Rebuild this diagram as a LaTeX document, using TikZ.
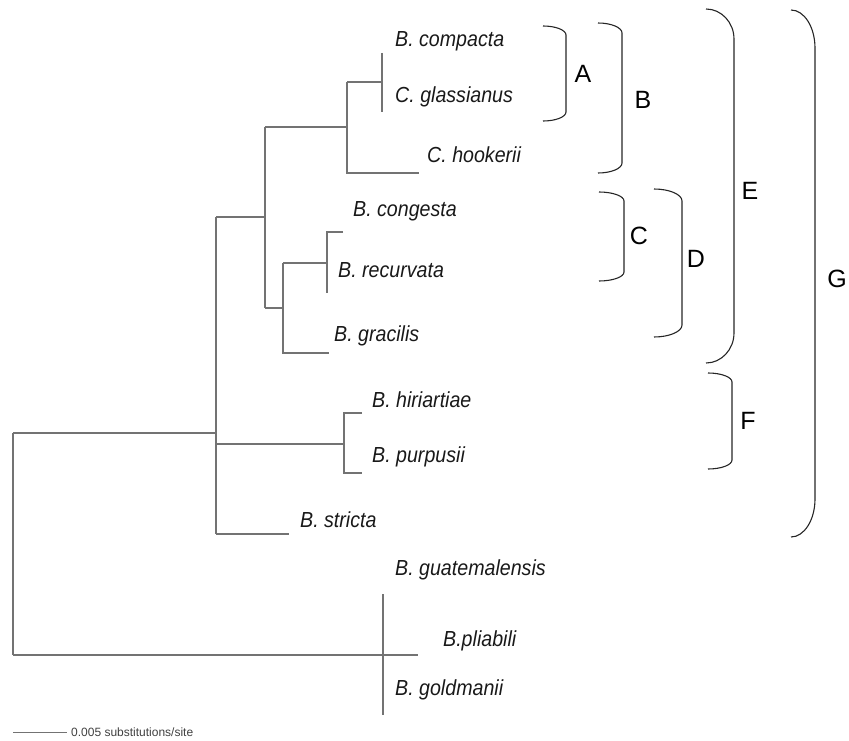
\documentclass[tikz,border=0pt]{standalone}
\usepackage{fontspec}
\setmainfont{Liberation Sans}
\newfontfamily\taxfont[FakeStretch=0.9]{Liberation Sans}
\newcommand\cladebrace[5]{% #1=x0 #2=ytop #3=w #4=r #5=ybot
  \draw[bracestyle] (#1,#2) .. controls +(0.55*#3,0) and +(0,-0.55*#4) .. ({#1+#3},{#2+#4})
    -- ({#1+#3},{#5-#4}) .. controls +(0,0.55*#4) and +(0.55*#3,0) .. (#1,#5);}
\begin{document}
\begin{tikzpicture}[x=1pt,y=-1pt,
  branch/.style={draw=black!55, line width=1.2pt},
  bracestyle/.style={draw=black!85, line width=1.1pt},
  taxon/.style={anchor=base west, inner sep=0pt, font=\taxfont\fontsize{21.8}{22}\selectfont\itshape, text=black!90},
  cladelabel/.style={anchor=base, inner sep=0pt, font=\fontsize{25}{25}\selectfont},
  scaletext/.style={anchor=base west, inner sep=0pt, font=\fontsize{12}{12}\selectfont, text=black!75}]
\useasboundingbox (0,0) rectangle (849,741);
% ---- tree node coordinates
\coordinate (rootT) at (13,433);
\coordinate (rootB) at (13,655);
\coordinate (inT) at (216,217);
\coordinate (inB) at (216,534);
\coordinate (inR) at (216,433);
\coordinate (eT) at (265,127);
\coordinate (eB) at (265,308);
\coordinate (bT) at (347,82);
\coordinate (bB) at (347,173);
\coordinate (aT) at (382,53);
\coordinate (aB) at (382,112);
\coordinate (hook) at (419,173);
\coordinate (dT) at (283,263);
\coordinate (dB) at (283,353);
\coordinate (cT) at (327,232);
\coordinate (cB) at (327,293);
\coordinate (cong) at (343,232);
\coordinate (grac) at (329,353);
\coordinate (fT) at (344,413);
\coordinate (fB) at (344,473);
\coordinate (fS) at (344,444);
\coordinate (inF) at (216,444);
\coordinate (hiri) at (362,413);
\coordinate (purp) at (362,473);
\coordinate (stri) at (289,534);
\coordinate (outT) at (383,594);
\coordinate (outB) at (383,715);
\coordinate (outR) at (418,655);
% ---- branches
\draw[branch] (rootT) -- (rootB);
\draw[branch] (rootT) -- (inR);
\draw[branch] (rootB) -- (outR);
\draw[branch] (outT) -- (outB);
\draw[branch] (inT) -- (inB);
\draw[branch] (inT) -| (eT);
\draw[branch] (eT) -- (eB);
\draw[branch] (eT) -| (bT);
\draw[branch] (bT) -- (bB) -- (hook);
\draw[branch] (bT) -| (aT);
\draw[branch] (aT) -- (aB);
\draw[branch] (eB) -| (dT);
\draw[branch] (dT) -- (dB) -- (grac);
\draw[branch] (dT) -| (cT);
\draw[branch] (cong) -- (cT) -- (cB);
\draw[branch] (inB) -- (stri);
\draw[branch] (inF) -- (fS);
\draw[branch] (hiri) -- (fT) -- (fB) -- (purp);
% ---- taxa
\node[taxon] (tcomp) at (395,47) {B. compacta};
\node[taxon] (tglas) at (395,103) {C. glassianus};
\node[taxon] (thook) at (427,163) {C. hookerii};
\node[taxon] (tcong) at (353,216) {B. congesta};
\node[taxon] (trecu) at (338,277) {B. recurvata};
\node[taxon] (tgrac) at (334,341) {B. gracilis};
\node[taxon] (thiri) at (372,407) {B. hiriartiae};
\node[taxon] (tpurp) at (372,462) {B. purpusii};
\node[taxon] (tstri) at (300,527) {B. stricta};
\node[taxon] (tguat) at (395,575) {B. guatemalensis};
\node[taxon] (tplia) at (443,646) {B.pliabili};
\node[taxon] (tgold) at (395,695) {B. goldmanii};
% ---- scale bar
\coordinate (sbL) at (13,732);
\coordinate (sbR) at (67,732);
\draw[branch, line width=1pt] (sbL) -- (sbR);
\node[scaletext] (sbt) at (71,736) {0.005 substitutions/site};
% ---- clade brackets
\cladebrace{543}{26}{23}{9}{121}
\cladebrace{598}{23}{24}{10}{173}
\cladebrace{599}{192}{25}{9}{281}
\cladebrace{654}{189}{28}{12}{337}
\cladebrace{706}{9}{28}{30}{363}
\cladebrace{708}{373}{24}{9}{469}
\cladebrace{791}{10}{24}{38}{537}
\node[cladelabel] (lA) at (583,83) {A};
\node[cladelabel] (lB) at (643,109) {B};
\node[cladelabel] (lC) at (639,244) {C};
\node[cladelabel] (lD) at (696,267) {D};
\node[cladelabel] (lE) at (750,199) {E};
\node[cladelabel] (lF) at (748,429) {F};
\node[cladelabel] (lG) at (837,287) {G};
\end{tikzpicture}
\end{document}
